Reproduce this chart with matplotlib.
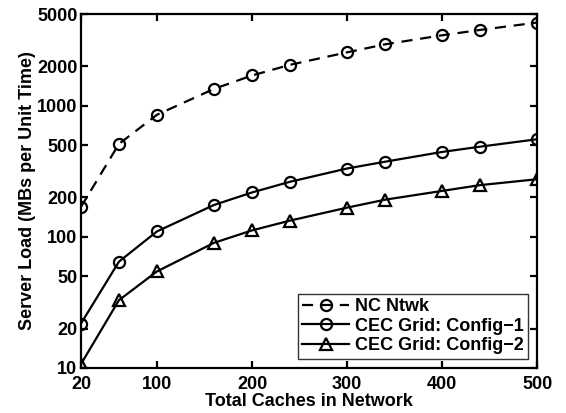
import matplotlib
matplotlib.use("Agg")
import matplotlib.pyplot as plt
from matplotlib.ticker import FixedLocator, FixedFormatter, NullLocator

caches = [20, 60, 100, 160, 200, 240, 300, 340, 400, 440, 500]
nc_ntwk = [169, 511, 853, 1343, 1700, 2051, 2552, 2938, 3443, 3783, 4306]
cec_config1 = [21.8, 64.7, 110, 175, 218, 263, 332, 374, 444, 487, 555]
cec_config2 = [10.7, 32.9, 54.5, 90, 112, 133, 167, 192, 224, 248, 275]

xticks = [20, 100, 200, 300, 400, 500]
yticks = [10, 20, 50, 100, 200, 500, 1000, 2000, 5000]
ytick_labels = ["10", "20", "50", "100", "200", "500", "1000", "2000", "5000"]

plt.rcParams['font.family'] = ['Liberation Sans', 'DejaVu Sans']
plt.rcParams['font.weight'] = 'bold'

fs = 13
fig = plt.figure(figsize=(5.66, 4.13), dpi=100)
ax = fig.add_axes([0.143, 0.109, 0.806, 0.857])

lw = 1.6
ms = 8
mew = 1.6
ax.plot(caches, nc_ntwk, color='black', lw=lw, dashes=(5, 3.5), marker='o',
        ms=ms, mfc='none', mec='black', mew=mew, label='NC Ntwk')
ax.plot(caches, cec_config1, color='black', lw=lw, marker='o',
        ms=ms, mfc='none', mec='black', mew=mew, label='CEC Grid: Config\u22121')
ax.plot(caches, cec_config2, color='black', lw=lw, marker='^',
        ms=ms + 1, mfc='none', mec='black', mew=mew, label='CEC Grid: Config\u22122')

ax.set_yscale('log')
ax.set_xlim(20, 500)
ax.set_ylim(10, 5000)
ax.xaxis.set_major_locator(FixedLocator(xticks))
ax.yaxis.set_major_locator(FixedLocator(yticks))
ax.yaxis.set_major_formatter(FixedFormatter(ytick_labels))
ax.yaxis.set_minor_locator(NullLocator())

for s in ax.spines.values():
    s.set_linewidth(1.6)
ax.tick_params(axis='both', which='major', direction='in', length=5, width=1.6,
               top=True, right=True, labelsize=fs)
ax.tick_params(axis='x', pad=6)
ax.tick_params(axis='y', pad=2.5)
for lab in ax.get_xticklabels() + ax.get_yticklabels():
    lab.set_fontweight('bold')

ax.set_xlabel('Total Caches in Network', fontsize=fs, fontweight='bold', labelpad=0)
ax.set_ylabel('Server Load (MBs per Unit Time)', fontsize=fs, fontweight='bold', labelpad=1)

leg = ax.legend(loc='lower right', fontsize=fs, frameon=True, fancybox=False,
                edgecolor='black', handlelength=2.6, borderpad=0.25, labelspacing=0.15,
                handletextpad=0.3, borderaxespad=0.5)
leg.get_frame().set_linewidth(1.0)
for t in leg.get_texts():
    t.set_fontweight('bold')

fig.savefig('out.png', dpi=100)
